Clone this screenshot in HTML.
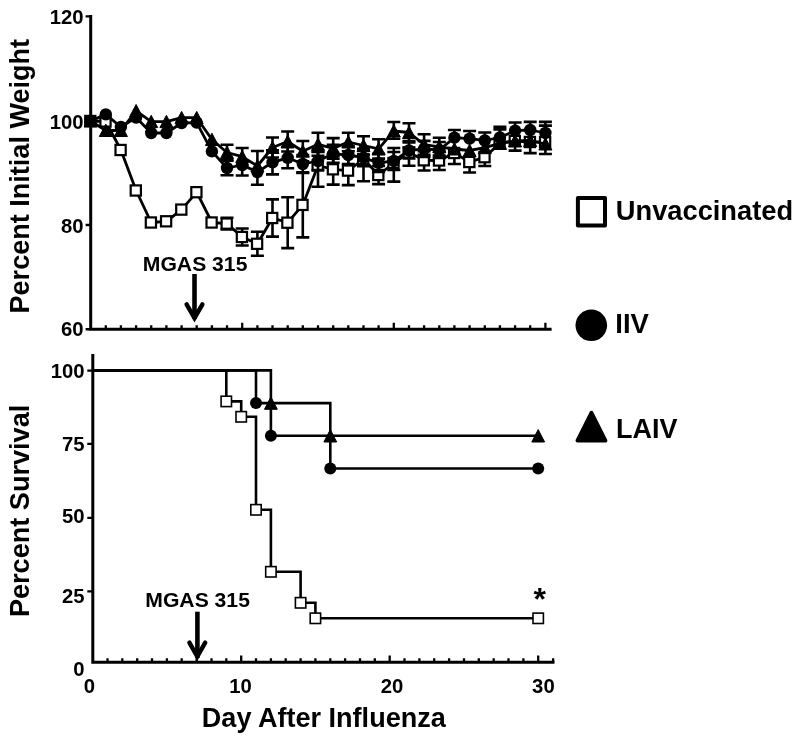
<!DOCTYPE html>
<html lang="en"><head><meta charset="utf-8"><title>Figure</title>
<style>html,body{margin:0;padding:0;background:#fff}body{width:800px;height:743px;overflow:hidden}</style>
</head><body>
<svg width="800" height="743" viewBox="0 0 800 743" style="display:block">
<rect width="800" height="743" fill="#fff"/>
<g fill="none" stroke="#000" stroke-linecap="butt">
<path d="M90.7 15.1V330.8M89.2 329.3H551.6" stroke-width="3.0"/>
<path d="M85.6 16.4H90M85.6 121H90M85.6 225H90M85.6 329.3H90" stroke-width="2.4"/>
<path d="M105.8 325.3V329M120.9 325.3V329M136.1 325.3V329M151.2 325.3V329M166.4 325.3V329M181.6 325.3V329M196.7 325.3V329M211.9 325.3V329M227.0 325.3V329M242.2 322.7V329M257.4 325.3V329M272.5 325.3V329M287.7 325.3V329M302.8 325.3V329M318.0 325.3V329M333.2 325.3V329M348.3 325.3V329M363.5 325.3V329M378.6 325.3V329M393.8 322.7V329M409.0 325.3V329M424.1 325.3V329M439.3 325.3V329M454.4 325.3V329M469.6 325.3V329M484.8 325.3V329M499.9 325.3V329M515.1 325.3V329M530.2 325.3V329M545.4 322.7V329" stroke-width="2.3"/>
</g>
<g id="s-unvac">
<path d="M227.0 217.8V229.4M220.5 217.8H233.5M220.5 229.4H233.5M242.2 228.5V245.5M235.7 228.5H248.7M235.7 245.5H248.7M257.4 231.8V255.8M250.9 231.8H263.9M250.9 255.8H263.9M272.5 199.4V236.6M266.0 199.4H279.0M266.0 236.6H279.0M287.7 197.3V248.1M281.2 197.3H294.2M281.2 248.1H294.2M302.8 172.4V237.4M296.3 172.4H309.3M296.3 237.4H309.3M318.0 151.5V186.8M311.5 151.5H324.5M311.5 186.8H324.5M333.2 156.3V184.6M326.7 156.3H339.7M326.7 184.6H339.7M348.3 156.1V185.1M341.8 156.1H354.8M341.8 185.1H354.8M363.5 149.0V181.2M357.0 149.0H370.0M357.0 181.2H370.0M378.6 166.0V184.1M372.1 166.0H385.1M372.1 184.1H385.1M393.8 148.0V181.6M387.3 148.0H400.3M387.3 181.6H400.3M409.0 147.5V165.7M402.5 147.5H415.5M402.5 165.7H415.5M424.1 151.3V170.5M417.6 151.3H430.6M417.6 170.5H430.6M439.3 151.5V170.0M432.8 151.5H445.8M432.8 170.0H445.8M454.4 153.0V164.0M447.9 164.0H460.9M469.6 162.0V172.5M463.1 172.5H476.1M484.8 157.2V166.0M478.3 166.0H491.3M499.9 143.0V148.8M493.4 148.8H506.4M530.2 142.0V153.1M523.7 153.1H536.7" fill="none" stroke="#000" stroke-width="2.6"/>
<polyline fill="none" stroke="#000" stroke-width="2.8" stroke-linejoin="round" points="90.6,121.0 105.8,121.5 120.9,150.0 136.1,190.5 151.2,222.5 166.4,221.3 181.6,209.6 196.7,192.2 211.9,222.5 227.0,223.6 242.2,237.0 257.4,243.8 272.5,218.0 287.7,222.7 302.8,204.9 318.0,165.5 333.2,169.3 348.3,170.6 363.5,159.0 378.6,175.0 393.8,163.0 409.0,152.5 424.1,160.3 439.3,160.5 454.4,153.0 469.6,162.0 484.8,157.2 499.9,143.0 515.1,141.0 530.2,142.0 545.4,142.0"/>
<rect x="85.2" y="115.9" width="10.2" height="10.2" fill="#fff" stroke="#000" stroke-width="2.2"/>
<rect x="100.4" y="116.4" width="10.2" height="10.2" fill="#fff" stroke="#000" stroke-width="2.2"/>
<rect x="115.5" y="144.9" width="10.2" height="10.2" fill="#fff" stroke="#000" stroke-width="2.2"/>
<rect x="130.7" y="185.4" width="10.2" height="10.2" fill="#fff" stroke="#000" stroke-width="2.2"/>
<rect x="145.8" y="217.4" width="10.2" height="10.2" fill="#fff" stroke="#000" stroke-width="2.2"/>
<rect x="161.0" y="216.2" width="10.2" height="10.2" fill="#fff" stroke="#000" stroke-width="2.2"/>
<rect x="176.2" y="204.5" width="10.2" height="10.2" fill="#fff" stroke="#000" stroke-width="2.2"/>
<rect x="191.3" y="187.1" width="10.2" height="10.2" fill="#fff" stroke="#000" stroke-width="2.2"/>
<rect x="206.5" y="217.4" width="10.2" height="10.2" fill="#fff" stroke="#000" stroke-width="2.2"/>
<rect x="221.6" y="218.5" width="10.2" height="10.2" fill="#fff" stroke="#000" stroke-width="2.2"/>
<rect x="236.8" y="231.9" width="10.2" height="10.2" fill="#fff" stroke="#000" stroke-width="2.2"/>
<rect x="252.0" y="238.7" width="10.2" height="10.2" fill="#fff" stroke="#000" stroke-width="2.2"/>
<rect x="267.1" y="212.9" width="10.2" height="10.2" fill="#fff" stroke="#000" stroke-width="2.2"/>
<rect x="282.3" y="217.6" width="10.2" height="10.2" fill="#fff" stroke="#000" stroke-width="2.2"/>
<rect x="297.4" y="199.8" width="10.2" height="10.2" fill="#fff" stroke="#000" stroke-width="2.2"/>
<rect x="312.6" y="160.4" width="10.2" height="10.2" fill="#fff" stroke="#000" stroke-width="2.2"/>
<rect x="327.8" y="164.2" width="10.2" height="10.2" fill="#fff" stroke="#000" stroke-width="2.2"/>
<rect x="342.9" y="165.5" width="10.2" height="10.2" fill="#fff" stroke="#000" stroke-width="2.2"/>
<rect x="358.1" y="153.9" width="10.2" height="10.2" fill="#fff" stroke="#000" stroke-width="2.2"/>
<rect x="373.2" y="169.9" width="10.2" height="10.2" fill="#fff" stroke="#000" stroke-width="2.2"/>
<rect x="388.4" y="157.9" width="10.2" height="10.2" fill="#fff" stroke="#000" stroke-width="2.2"/>
<rect x="403.6" y="147.4" width="10.2" height="10.2" fill="#fff" stroke="#000" stroke-width="2.2"/>
<rect x="418.7" y="155.2" width="10.2" height="10.2" fill="#fff" stroke="#000" stroke-width="2.2"/>
<rect x="433.9" y="155.4" width="10.2" height="10.2" fill="#fff" stroke="#000" stroke-width="2.2"/>
<rect x="449.0" y="147.9" width="10.2" height="10.2" fill="#fff" stroke="#000" stroke-width="2.2"/>
<rect x="464.2" y="156.9" width="10.2" height="10.2" fill="#fff" stroke="#000" stroke-width="2.2"/>
<rect x="479.4" y="152.1" width="10.2" height="10.2" fill="#fff" stroke="#000" stroke-width="2.2"/>
<rect x="494.5" y="137.9" width="10.2" height="10.2" fill="#fff" stroke="#000" stroke-width="2.2"/>
<rect x="509.7" y="135.9" width="10.2" height="10.2" fill="#fff" stroke="#000" stroke-width="2.2"/>
<rect x="524.8" y="136.9" width="10.2" height="10.2" fill="#fff" stroke="#000" stroke-width="2.2"/>
<rect x="540.0" y="136.9" width="10.2" height="10.2" fill="#fff" stroke="#000" stroke-width="2.2"/>
</g>
<g id="s-iiv">
<path d="M227.0 160.8V175.2M220.5 160.8H233.5M220.5 175.2H233.5M242.2 165.0V175.5M235.7 175.5H248.7M257.4 172.0V184.8M250.9 184.8H263.9M272.5 150.4V174.4M266.0 150.4H279.0M266.0 174.4H279.0M287.7 147.3V168.3M281.2 147.3H294.2M281.2 168.3H294.2M302.8 155.0V173.0M296.3 155.0H309.3M296.3 173.0H309.3M318.0 152.0V170.0M311.5 152.0H324.5M311.5 170.0H324.5M333.2 144.8V162.8M326.7 144.8H339.7M326.7 162.8H339.7M348.3 146.0V164.0M341.8 146.0H354.8M341.8 164.0H354.8M363.5 149.1V166.3M357.0 149.1H370.0M357.0 166.3H370.0M378.6 153.9V171.9M372.1 153.9H385.1M372.1 171.9H385.1M393.8 152.0V170.0M387.3 152.0H400.3M387.3 170.0H400.3M409.0 142.5V158.5M402.5 142.5H415.5M402.5 158.5H415.5M424.1 140.9V156.9M417.6 140.9H430.6M417.6 156.9H430.6M439.3 142.0V158.0M432.8 142.0H445.8M432.8 158.0H445.8M454.4 130.0V137.7M447.9 130.0H460.9M469.6 131.0V138.7M463.1 131.0H476.1M484.8 132.5V140.5M478.3 132.5H491.3M499.9 126.9V137.5M493.4 126.9H506.4M515.1 122.5V130.6M508.6 122.5H521.6M530.2 121.9V130.0M523.7 121.9H536.7M545.4 121.9V133.0M538.9 121.9H551.9" fill="none" stroke="#000" stroke-width="2.6"/>
<polyline fill="none" stroke="#000" stroke-width="2.8" stroke-linejoin="round" points="90.6,121.0 105.8,114.4 120.9,127.0 136.1,117.6 151.2,133.0 166.4,133.0 181.6,123.0 196.7,122.6 211.9,151.4 227.0,168.0 242.2,165.0 257.4,172.0 272.5,162.4 287.7,157.8 302.8,164.0 318.0,161.0 333.2,153.8 348.3,155.0 363.5,157.7 378.6,162.9 393.8,161.0 409.0,150.5 424.1,148.9 439.3,150.0 454.4,137.7 469.6,138.7 484.8,140.5 499.9,137.5 515.1,130.6 530.2,130.0 545.4,133.0"/>
<circle cx="90.6" cy="121.0" r="6.2" fill="#000"/>
<circle cx="105.8" cy="114.4" r="6.2" fill="#000"/>
<circle cx="120.9" cy="127.0" r="6.2" fill="#000"/>
<circle cx="136.1" cy="117.6" r="6.2" fill="#000"/>
<circle cx="151.2" cy="133.0" r="6.2" fill="#000"/>
<circle cx="166.4" cy="133.0" r="6.2" fill="#000"/>
<circle cx="181.6" cy="123.0" r="6.2" fill="#000"/>
<circle cx="196.7" cy="122.6" r="6.2" fill="#000"/>
<circle cx="211.9" cy="151.4" r="6.2" fill="#000"/>
<circle cx="227.0" cy="168.0" r="6.2" fill="#000"/>
<circle cx="242.2" cy="165.0" r="6.2" fill="#000"/>
<circle cx="257.4" cy="172.0" r="6.2" fill="#000"/>
<circle cx="272.5" cy="162.4" r="6.2" fill="#000"/>
<circle cx="287.7" cy="157.8" r="6.2" fill="#000"/>
<circle cx="302.8" cy="164.0" r="6.2" fill="#000"/>
<circle cx="318.0" cy="161.0" r="6.2" fill="#000"/>
<circle cx="333.2" cy="153.8" r="6.2" fill="#000"/>
<circle cx="348.3" cy="155.0" r="6.2" fill="#000"/>
<circle cx="363.5" cy="157.7" r="6.2" fill="#000"/>
<circle cx="378.6" cy="162.9" r="6.2" fill="#000"/>
<circle cx="393.8" cy="161.0" r="6.2" fill="#000"/>
<circle cx="409.0" cy="150.5" r="6.2" fill="#000"/>
<circle cx="424.1" cy="148.9" r="6.2" fill="#000"/>
<circle cx="439.3" cy="150.0" r="6.2" fill="#000"/>
<circle cx="454.4" cy="137.7" r="6.2" fill="#000"/>
<circle cx="469.6" cy="138.7" r="6.2" fill="#000"/>
<circle cx="484.8" cy="140.5" r="6.2" fill="#000"/>
<circle cx="499.9" cy="137.5" r="6.2" fill="#000"/>
<circle cx="515.1" cy="130.6" r="6.2" fill="#000"/>
<circle cx="530.2" cy="130.0" r="6.2" fill="#000"/>
<circle cx="545.4" cy="133.0" r="6.2" fill="#000"/>
</g>
<g id="s-laiv">
<path d="M227.0 144.8V160.2M220.5 144.8H233.5M220.5 160.2H233.5M242.2 148.0V165.4M235.7 148.0H248.7M235.7 165.4H248.7M257.4 151.0V166.0M250.9 151.0H263.9M272.5 137.5V157.5M266.0 137.5H279.0M266.0 157.5H279.0M287.7 131.5V151.5M281.2 131.5H294.2M281.2 151.5H294.2M302.8 141.0V161.4M296.3 141.0H309.3M296.3 161.4H309.3M318.0 132.8V155.8M311.5 132.8H324.5M311.5 155.8H324.5M333.2 138.1V158.7M326.7 138.1H339.7M326.7 158.7H339.7M348.3 132.7V151.3M341.8 132.7H354.8M341.8 151.3H354.8M363.5 136.3V154.7M357.0 136.3H370.0M357.0 154.7H370.0M378.6 139.2V158.6M372.1 139.2H385.1M372.1 158.6H385.1M393.8 122.0V138.8M387.3 122.0H400.3M387.3 138.8H400.3M409.0 123.2V141.0M402.5 123.2H415.5M402.5 141.0H415.5M424.1 134.3V154.9M417.6 134.3H430.6M417.6 154.9H430.6M439.3 137.7V155.9M432.8 137.7H445.8M432.8 155.9H445.8M499.9 129.4V143.4M493.4 129.4H506.4M515.1 140.9V150.6M508.6 150.6H521.6M545.4 125.6V154.0M538.9 125.6H551.9M538.9 154.0H551.9" fill="none" stroke="#000" stroke-width="2.6"/>
<polyline fill="none" stroke="#000" stroke-width="2.8" stroke-linejoin="round" points="90.6,121.0 105.8,130.5 120.9,130.5 136.1,110.8 151.2,121.6 166.4,121.6 181.6,117.7 196.7,117.7 211.9,139.5 227.0,152.5 242.2,156.7 257.4,166.0 272.5,147.5 287.7,141.5 302.8,151.2 318.0,144.3 333.2,148.4 348.3,142.0 363.5,145.5 378.6,148.9 393.8,131.0 409.0,132.5 424.1,144.6 439.3,146.8 454.4,149.0 469.6,150.5 484.8,147.7 499.9,143.4 515.1,140.9 530.2,140.5 545.4,144.0"/>
<path d="M90.6 114.7L97.1 127.0H84.1Z" fill="#000" stroke="#000" stroke-width="1" stroke-linejoin="miter"/>
<path d="M105.8 124.2L112.3 136.5H99.3Z" fill="#000" stroke="#000" stroke-width="1" stroke-linejoin="miter"/>
<path d="M120.9 124.2L127.4 136.5H114.4Z" fill="#000" stroke="#000" stroke-width="1" stroke-linejoin="miter"/>
<path d="M136.1 104.5L142.6 116.8H129.6Z" fill="#000" stroke="#000" stroke-width="1" stroke-linejoin="miter"/>
<path d="M151.2 115.3L157.7 127.6H144.7Z" fill="#000" stroke="#000" stroke-width="1" stroke-linejoin="miter"/>
<path d="M166.4 115.3L172.9 127.6H159.9Z" fill="#000" stroke="#000" stroke-width="1" stroke-linejoin="miter"/>
<path d="M181.6 111.4L188.1 123.7H175.1Z" fill="#000" stroke="#000" stroke-width="1" stroke-linejoin="miter"/>
<path d="M196.7 111.4L203.2 123.7H190.2Z" fill="#000" stroke="#000" stroke-width="1" stroke-linejoin="miter"/>
<path d="M211.9 133.2L218.4 145.5H205.4Z" fill="#000" stroke="#000" stroke-width="1" stroke-linejoin="miter"/>
<path d="M227.0 146.2L233.5 158.5H220.5Z" fill="#000" stroke="#000" stroke-width="1" stroke-linejoin="miter"/>
<path d="M242.2 150.4L248.7 162.7H235.7Z" fill="#000" stroke="#000" stroke-width="1" stroke-linejoin="miter"/>
<path d="M257.4 159.7L263.9 172.0H250.9Z" fill="#000" stroke="#000" stroke-width="1" stroke-linejoin="miter"/>
<path d="M272.5 141.2L279.0 153.5H266.0Z" fill="#000" stroke="#000" stroke-width="1" stroke-linejoin="miter"/>
<path d="M287.7 135.2L294.2 147.5H281.2Z" fill="#000" stroke="#000" stroke-width="1" stroke-linejoin="miter"/>
<path d="M302.8 144.9L309.3 157.2H296.3Z" fill="#000" stroke="#000" stroke-width="1" stroke-linejoin="miter"/>
<path d="M318.0 138.0L324.5 150.3H311.5Z" fill="#000" stroke="#000" stroke-width="1" stroke-linejoin="miter"/>
<path d="M333.2 142.1L339.7 154.4H326.7Z" fill="#000" stroke="#000" stroke-width="1" stroke-linejoin="miter"/>
<path d="M348.3 135.7L354.8 148.0H341.8Z" fill="#000" stroke="#000" stroke-width="1" stroke-linejoin="miter"/>
<path d="M363.5 139.2L370.0 151.5H357.0Z" fill="#000" stroke="#000" stroke-width="1" stroke-linejoin="miter"/>
<path d="M378.6 142.6L385.1 154.9H372.1Z" fill="#000" stroke="#000" stroke-width="1" stroke-linejoin="miter"/>
<path d="M393.8 124.7L400.3 137.0H387.3Z" fill="#000" stroke="#000" stroke-width="1" stroke-linejoin="miter"/>
<path d="M409.0 126.2L415.5 138.5H402.5Z" fill="#000" stroke="#000" stroke-width="1" stroke-linejoin="miter"/>
<path d="M424.1 138.3L430.6 150.6H417.6Z" fill="#000" stroke="#000" stroke-width="1" stroke-linejoin="miter"/>
<path d="M439.3 140.5L445.8 152.8H432.8Z" fill="#000" stroke="#000" stroke-width="1" stroke-linejoin="miter"/>
<path d="M454.4 142.7L460.9 155.0H447.9Z" fill="#000" stroke="#000" stroke-width="1" stroke-linejoin="miter"/>
<path d="M469.6 144.2L476.1 156.5H463.1Z" fill="#000" stroke="#000" stroke-width="1" stroke-linejoin="miter"/>
<path d="M484.8 141.4L491.3 153.7H478.3Z" fill="#000" stroke="#000" stroke-width="1" stroke-linejoin="miter"/>
<path d="M499.9 137.1L506.4 149.4H493.4Z" fill="#000" stroke="#000" stroke-width="1" stroke-linejoin="miter"/>
<path d="M515.1 134.6L521.6 146.9H508.6Z" fill="#000" stroke="#000" stroke-width="1" stroke-linejoin="miter"/>
<path d="M530.2 134.2L536.7 146.5H523.7Z" fill="#000" stroke="#000" stroke-width="1" stroke-linejoin="miter"/>
<path d="M545.4 137.7L551.9 150.0H538.9Z" fill="#000" stroke="#000" stroke-width="1" stroke-linejoin="miter"/>
</g>
<g fill="none" stroke="#000" stroke-width="4.6"><path d="M194.5 274V319"/><path d="M186.6 304.3L194.5 318.1L202.4 304.3" stroke-width="4.4" stroke-linecap="round" stroke-linejoin="miter"/></g>
<g fill="none" stroke="#000">
<path d="M92.8 354.1V663.8M91.3 662.3H554.5" stroke-width="3.0"/>
<path d="M87.3 370.6H92M87.3 443.9H92M87.3 517.9H92M87.3 591.4H92" stroke-width="2.4"/>
<path d="M107.5 658.3V662M122.3 658.3V662M137.2 658.3V662M152.0 658.3V662M166.9 658.3V662M181.7 658.3V662M196.6 658.3V662M211.5 658.3V662M226.3 658.3V662M241.2 655.5V662M256.0 658.3V662M270.9 658.3V662M285.7 658.3V662M300.6 658.3V662M315.4 658.3V662M330.3 658.3V662M345.1 658.3V662M360.0 658.3V662M374.8 658.3V662M389.7 655.5V662M404.5 658.3V662M419.4 658.3V662M434.2 658.3V662M449.1 658.3V662M464.0 658.3V662M478.8 658.3V662M493.7 658.3V662M508.5 658.3V662M523.4 658.3V662M538.2 655.5V662M553.1 658.3V662" stroke-width="2.3"/>
</g>
<g id="k-unvac">
<path d="M92.6 370.4H226.3V401.4H241.2V416.8H256.0V509.8H270.9V571.8H300.6V602.8H315.4V618.3H538.2" fill="none" stroke="#000" stroke-width="2.6" stroke-linejoin="miter"/>
<rect x="221.1" y="396.2" width="10.4" height="10.4" fill="#fff" stroke="#000" stroke-width="1.6"/>
<rect x="236.0" y="411.6" width="10.4" height="10.4" fill="#fff" stroke="#000" stroke-width="1.6"/>
<rect x="250.8" y="504.6" width="10.4" height="10.4" fill="#fff" stroke="#000" stroke-width="1.6"/>
<rect x="265.7" y="566.6" width="10.4" height="10.4" fill="#fff" stroke="#000" stroke-width="1.6"/>
<rect x="295.4" y="597.6" width="10.4" height="10.4" fill="#fff" stroke="#000" stroke-width="1.6"/>
<rect x="310.2" y="613.1" width="10.4" height="10.4" fill="#fff" stroke="#000" stroke-width="1.6"/>
<rect x="533.0" y="613.1" width="10.4" height="10.4" fill="#fff" stroke="#000" stroke-width="1.6"/>
</g>
<g id="k-iiv">
<path d="M92.6 370.4H256.0V403.1H270.9V435.8H330.3V468.5H538.2" fill="none" stroke="#000" stroke-width="2.6" stroke-linejoin="miter"/>
<circle cx="256.0" cy="403.1" r="6" fill="#000"/>
<circle cx="270.9" cy="435.8" r="6" fill="#000"/>
<circle cx="330.3" cy="468.5" r="6" fill="#000"/>
<circle cx="538.2" cy="468.5" r="6" fill="#000"/>
</g>
<g id="k-laiv">
<path d="M92.6 370.4H270.9V403.1H330.3V435.8H538.2" fill="none" stroke="#000" stroke-width="2.6" stroke-linejoin="miter"/>
<path d="M270.9 396.9L277.3 409.3H264.5Z" fill="#000" stroke="#000" stroke-width="1" stroke-linejoin="miter"/>
<path d="M330.3 429.6L336.7 442.0H323.9Z" fill="#000" stroke="#000" stroke-width="1" stroke-linejoin="miter"/>
<path d="M538.2 429.6L544.6 442.0H531.8Z" fill="#000" stroke="#000" stroke-width="1" stroke-linejoin="miter"/>
</g>
<g fill="none" stroke="#000" stroke-width="4.6"><path d="M197.4 611.7V658"/><path d="M189.4 642.6L197.3 656.6L205.2 642.6" stroke-width="4.4" stroke-linecap="round" stroke-linejoin="miter"/></g>
<rect x="577.9" y="198.1" width="27.1" height="27.3" fill="#fff" stroke="#000" stroke-width="4" stroke-linejoin="round"/>
<circle cx="591.3" cy="325.3" r="15.8" fill="#000"/>
<path d="M591.45 412.9L605.4 440.6H577.5Z" fill="#000" stroke="#000" stroke-width="4" stroke-linejoin="round"/>
<g font-family="'Liberation Sans', Arial, Helvetica, sans-serif" font-weight="bold" fill="#000">
<text x="615.8" y="219.5" font-size="27.5" text-anchor="start" textLength="177.3" lengthAdjust="spacingAndGlyphs">Unvaccinated</text>
<text x="615.3" y="333" font-size="27.5" text-anchor="start" >IIV</text>
<text x="615.9" y="437.6" font-size="27.5" text-anchor="start" textLength="61.5" lengthAdjust="spacingAndGlyphs">LAIV</text>
<text x="83.6" y="24.45" font-size="20.3" text-anchor="end" >120</text>
<text x="83.6" y="129.05" font-size="20.3" text-anchor="end" >100</text>
<text x="83.6" y="232.70000000000002" font-size="20.3" text-anchor="end" >80</text>
<text x="83.6" y="336.1" font-size="20.3" text-anchor="end" >60</text>
<text x="84.5" y="378.1" font-size="20.3" text-anchor="end" >100</text>
<text x="84.5" y="450.90000000000003" font-size="20.3" text-anchor="end" >75</text>
<text x="84.5" y="523.4" font-size="20.3" text-anchor="end" >50</text>
<text x="84.5" y="602.5" font-size="20.3" text-anchor="end" >25</text>
<text x="84.5" y="675.6999999999999" font-size="20.3" text-anchor="end" >0</text>
<text x="89.3" y="693.2" font-size="20.3" text-anchor="middle" >0</text>
<text x="240.6" y="693.2" font-size="20.3" text-anchor="middle" >10</text>
<text x="392" y="693.2" font-size="20.3" text-anchor="middle" >20</text>
<text x="543.4" y="693.2" font-size="20.3" text-anchor="middle" >30</text>
<text x="142.8" y="271.3" font-size="20.7" text-anchor="start" textLength="104.6" lengthAdjust="spacingAndGlyphs">MGAS 315</text>
<text x="145.3" y="607" font-size="20.7" text-anchor="start" textLength="104.6" lengthAdjust="spacingAndGlyphs">MGAS 315</text>
<text x="539.8" y="610.1" font-size="32" text-anchor="middle" >*</text>
<text x="323.8" y="726.7" font-size="27.05" text-anchor="middle" >Day After Influenza</text>
<text transform="translate(28.9 176.2) rotate(-90)" font-size="27.05" text-anchor="middle">Percent Initial Weight</text>
<text transform="translate(28.9 510.9) rotate(-90)" font-size="27.1" text-anchor="middle">Percent Survival</text>
</g>
</svg>
</body></html>
